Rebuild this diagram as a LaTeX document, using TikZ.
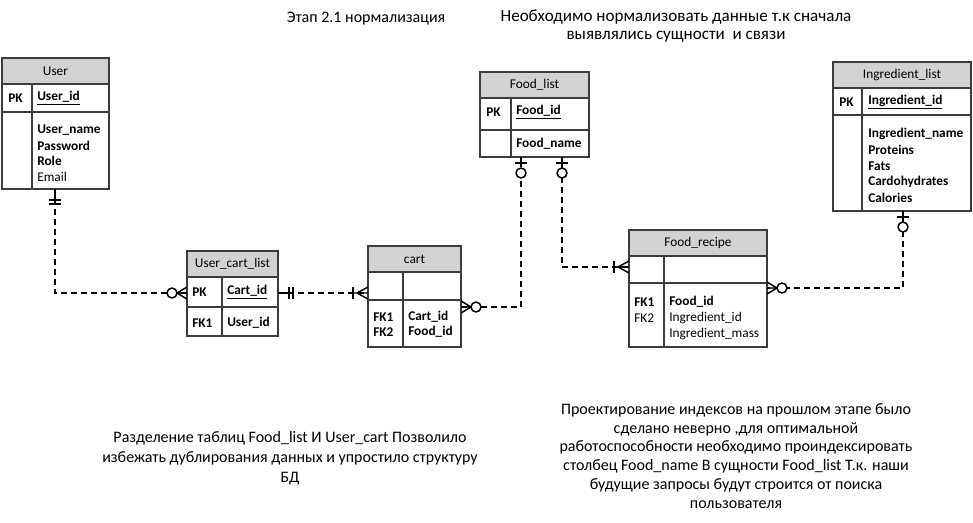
\documentclass[tikz,border=0pt]{standalone}
\usepackage{fontspec}
\setmainfont{Carlito}
\usetikzlibrary{fit}
\definecolor{hdrgray}{RGB}{210,210,210}
\definecolor{bordr}{RGB}{60,60,60}
\tikzset{
  tblbox/.style={draw=bordr, line width=1.1pt, inner sep=0pt},
  tblline/.style={draw=bordr, line width=1.1pt},
  fld/.style={anchor=west, inner sep=0pt, font=\fontsize{10}{12}\selectfont},
  fldb/.style={fld, font=\fontsize{10}{12}\selectfont\bfseries},
  ttl/.style={inner sep=0pt, font=\fontsize{10}{12}\selectfont},
  note/.style={inner sep=0pt, align=center, font=\fontsize{12}{14.1}\selectfont},
  rel/.style={draw=black, line width=1.1pt, dash pattern=on 4.5pt off 3pt},
  mk/.style={draw=black, line width=1.1pt},
  crowzero/.pic={\draw[mk] (0,6)--(10,0)--(0,-6) (0,0)--(10,0);
                 \draw[mk, fill=white] (15,0) circle[radius=5];},
  crowone/.pic={\draw[mk] (0,6)--(11,0)--(0,-6) (0,0)--(14,0);
                \draw[mk] (15,-6)--(15,6);},
  onezero/.pic={\draw[mk] (0,0)--(10,0) (6,-6)--(6,6);
                \draw[mk, fill=white] (16,0) circle[radius=5];},
  oneone/.pic={\draw[mk] (0,0)--(16,0) (11,-6)--(11,6) (15,-6)--(15,6);},
}
% name, L, T, R, B, H(header bottom), D(divider), V(vertical), title
\newcommand\ertable[9]{%
  \fill[hdrgray] (#2,#3) rectangle (#4,#6);
  \node[tblbox, fit={(#2,#3) (#4,#5)}] (#1) {};
  \draw[tblline] (#2,#6) -- (#4,#6) (#2,#7) -- (#4,#7) (#8,#6) -- (#8,#5);
  \node[ttl] (#1-title) at ({(#2+#4)/2},{(#3+#6)/2}) {#9};
}
\begin{document}
\begin{tikzpicture}[x=0.75pt, y=-0.75pt]
\useasboundingbox (0,0) rectangle (973,522);

% ---------- tables ----------
\ertable{user}{2}{58}{109}{189}{84}{112}{32}{User}
\node[fldb] (user-pk) at (8,98) {PK};
\node[fldb] (user-id) at (37,98) {\underline{User\_id}};
\node[fldb] (user-a1) at (37,130) {User\_name};
\node[fldb] (user-a2) at (37,146) {Password};
\node[fldb] (user-a3) at (37,161) {Role};
\node[fld]  (user-a4) at (37,177) {Email};

\ertable{ucl}{187}{251}{278}{336}{277}{307}{222}{User\_cart\_list}
\node[fldb] (ucl-pk) at (192,292) {PK};
\node[fldb] (ucl-id) at (227,292) {\underline{Cart\_id}};
\node[fldb] (ucl-fk) at (192,323) {FK1};
\node[fldb] (ucl-a1) at (227,323) {User\_id};

\ertable{cart}{368}{246}{461}{347}{272}{300}{403}{cart}
\node[fldb] (cart-fk1) at (373,317) {FK1};
\node[fldb] (cart-fk2) at (373,332) {FK2};
\node[fldb] (cart-a1) at (408,317) {Cart\_id};
\node[fldb] (cart-a2) at (408,332) {Food\_id};

\ertable{fl}{480}{72}{589}{157}{98}{130}{511}{Food\_list}
\node[fldb] (fl-pk) at (486,112) {PK};
\node[fldb] (fl-id) at (516,112) {\underline{Food\_id}};
\node[fldb] (fl-a1) at (516,144) {Food\_name};

\ertable{fr}{629}{230}{767}{347}{256}{283}{664}{Food\_recipe}
\node[fldb] (fr-fk1) at (634,302) {FK1};
\node[fld]  (fr-fk2) at (634,318) {FK2};
\node[fldb] (fr-a1) at (669,302) {Food\_id};
\node[fld]  (fr-a2) at (669,318) {Ingredient\_id};
\node[fld]  (fr-a3) at (669,334) {Ingredient\_mass};

\ertable{il}{833}{62}{971}{211}{88}{115}{862}{Ingredient\_list}
\node[fldb] (il-pk) at (839,102) {PK};
\node[fldb] (il-id) at (868,102) {\underline{Ingredient\_id}};
\node[fldb] (il-a1) at (868,134) {Ingredient\_name};
\node[fldb] (il-a2) at (868,150) {Proteins};
\node[fldb] (il-a3) at (868,166) {Fats};
\node[fldb] (il-a4) at (868,182) {Cardohydrates};
\node[fldb] (il-a5) at (868,198) {Calories};

% ---------- connection points ----------
\coordinate (user-s) at (55,189);
\coordinate (ucl-w) at (187,293);
\coordinate (ucl-e) at (278,293);
\coordinate (cart-w) at (368,293);
\coordinate (cart-e) at (461,307);
\coordinate (fl-s1) at (521,157);
\coordinate (fl-s2) at (562,157);
\coordinate (fr-w) at (629,267);
\coordinate (fr-e) at (767,288);
\coordinate (il-s) at (903,211);

% ---------- connectors ----------
\draw[rel] (user-s) |- (ucl-w);
\draw[rel] (ucl-e) -- (cart-w);
\draw[rel] (cart-e) -| (fl-s1);
\draw[rel] (fl-s2) |- (fr-w);
\draw[rel] (il-s) |- (fr-e);

\pic[rotate=-90] at (user-s) {oneone};
\pic[rotate=180] at (ucl-w) {crowzero};
\pic at (ucl-e) {oneone};
\pic[rotate=180] at (cart-w) {crowone};
\pic at (cart-e) {crowzero};
\pic[rotate=-90] at (fl-s1) {onezero};
\pic[rotate=-90] at (fl-s2) {onezero};
\pic[rotate=180] at (fr-w) {crowone};
\pic at (fr-e) {crowzero};
\pic[rotate=-90] at (il-s) {onezero};

% ---------- notes ----------
\node[note, font=\fontsize{12}{13.5}\selectfont] (n1) at (366,19) {Этап 2.1 нормализация};
\node[note, font=\fontsize{12.8}{13.5}\selectfont] (n2) at (676,26) {Необходимо нормализовать данные т.к сначала\\выявлялись сущности\ \ и связи};
\node[note, font=\fontsize{12}{15}\selectfont] (n3) at (290,458) {Разделение таблиц Food\_list И User\_cart Позволило\\избежать дублирования данных и упростило структуру\\БД};
\node[note] (n4) at (736,456) {Проектирование индексов на прошлом этапе было\\сделано неверно ,для оптимальной\\работоспособности необходимо проиндексировать\\столбец Food\_name В сущности Food\_list Т.к. наши\\будущие запросы будут строится от поиска\\пользователя};
\end{tikzpicture}
\end{document}
